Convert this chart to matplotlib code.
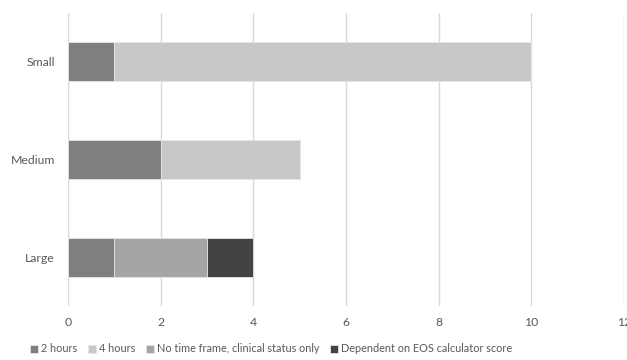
import matplotlib.pyplot as plt
import numpy as np

plt.rcParams['font.family'] = ['Lato', 'DejaVu Sans']

categories = ['Small', 'Medium', 'Large']
series_names = ['2 hours', '4 hours', 'No time frame, clinical status only',
                'Dependent on EOS calculator score']
two_hours = [1, 2, 1]
four_hours = [9, 3, 0]
no_time_frame = [0, 0, 2]
eos_score = [0, 0, 1]
colors = ['#7f7f7f', '#c8c8c8', '#a5a5a5', '#434343']

fig = plt.figure(figsize=(6.27, 3.6), dpi=100)
ax = fig.add_axes([68 / 627, 1 - 306 / 360, 556 / 627, 293 / 360])

y = np.arange(len(categories))
left = np.zeros(len(categories))
for name, vals, col in zip(series_names, [two_hours, four_hours, no_time_frame, eos_score], colors):
    ax.barh(y, vals, left=left, height=0.4, color=col, label=name,
            edgecolor='#e6e6e6', linewidth=0.6, zorder=3)
    left += np.array(vals)

ax.set_xlim(0, 12)
ax.set_ylim(2.5, -0.5)
ax.set_xticks(range(0, 13, 2))
ax.set_yticks(y)
ax.set_yticklabels(categories)
ax.xaxis.grid(True, color='#d9d9d9', linewidth=1, zorder=0)
for s in ax.spines.values():
    s.set_visible(False)
ax.tick_params(length=0, labelsize=8.8, labelcolor='#595959')
ax.tick_params(axis='x', pad=8)
ax.tick_params(axis='y', pad=9.5)

fig.legend(loc='center', bbox_to_anchor=(271 / 627, 1 - 349 / 360), ncol=4, frameon=False,
           fontsize=7.8, labelcolor='#595959', handlelength=0.75, handleheight=0.75,
           handletextpad=0.3, columnspacing=0.95)

fig.savefig('out.png', dpi=100)
